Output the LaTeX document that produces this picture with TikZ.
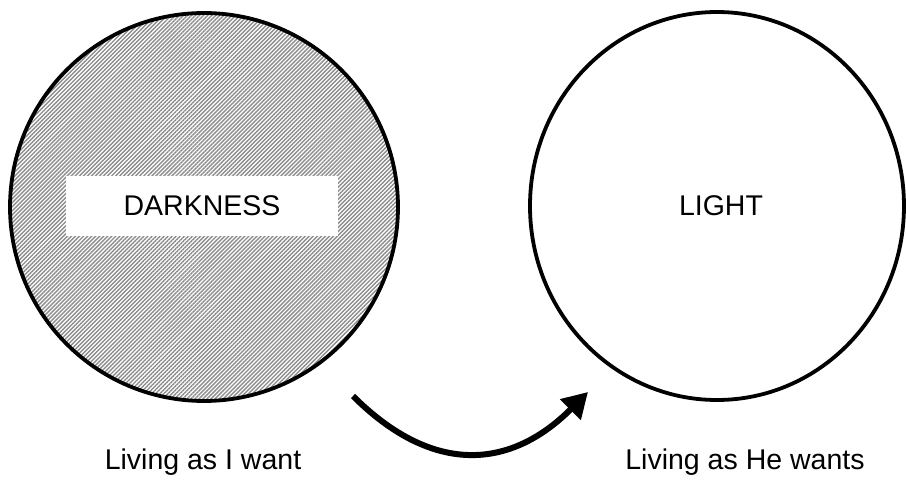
\documentclass[tikz,border=0pt]{standalone}
\usepackage{fontspec}
\setmainfont{Liberation Sans}
\usepackage{tikz}
\usetikzlibrary{positioning,arrows.meta,shapes.geometric,patterns.meta}

\begin{document}
\begin{tikzpicture}[
    x=1pt, y=-1pt,
    world/.style={draw, line width=3.8pt, inner sep=0pt},
    dark/.style={world, circle, minimum size=388pt, pattern={Lines[angle=45, distance=2.85pt, line width=1.4pt]}, pattern color=black!45},
    light/.style={world, ellipse, minimum width=374pt, minimum height=388pt},
    tag/.style={fill=white, minimum width=272pt, minimum height=60pt, inner sep=0pt, font=\fontsize{28.5}{32}\selectfont},
    caption/.style={font=\fontsize{28.5}{32}\selectfont, inner sep=0pt},
    arrow/.style={-{Triangle[length=25pt, width=28pt]}, line width=6pt}
]
\useasboundingbox (0,0) rectangle (906,485);

\node[dark] (Dark) at (204,207) {};
\node[light] (Light) at (717,206) {};

\node[tag] (DarkTag) at (202,206) {DARKNESS};
\node[tag, fill=none] (LightTag) at (721,206) {LIGHT};

\node[caption] (Want) at (203,462) {Living as I want};
\node[caption] (Wants) at (745,462) {Living as He wants};

\coordinate (from) at (353,396);
\coordinate (to) at (588,392);
\draw[arrow] (from) .. controls (429,472) and (507,473) .. (to);

\end{tikzpicture}
\end{document}
